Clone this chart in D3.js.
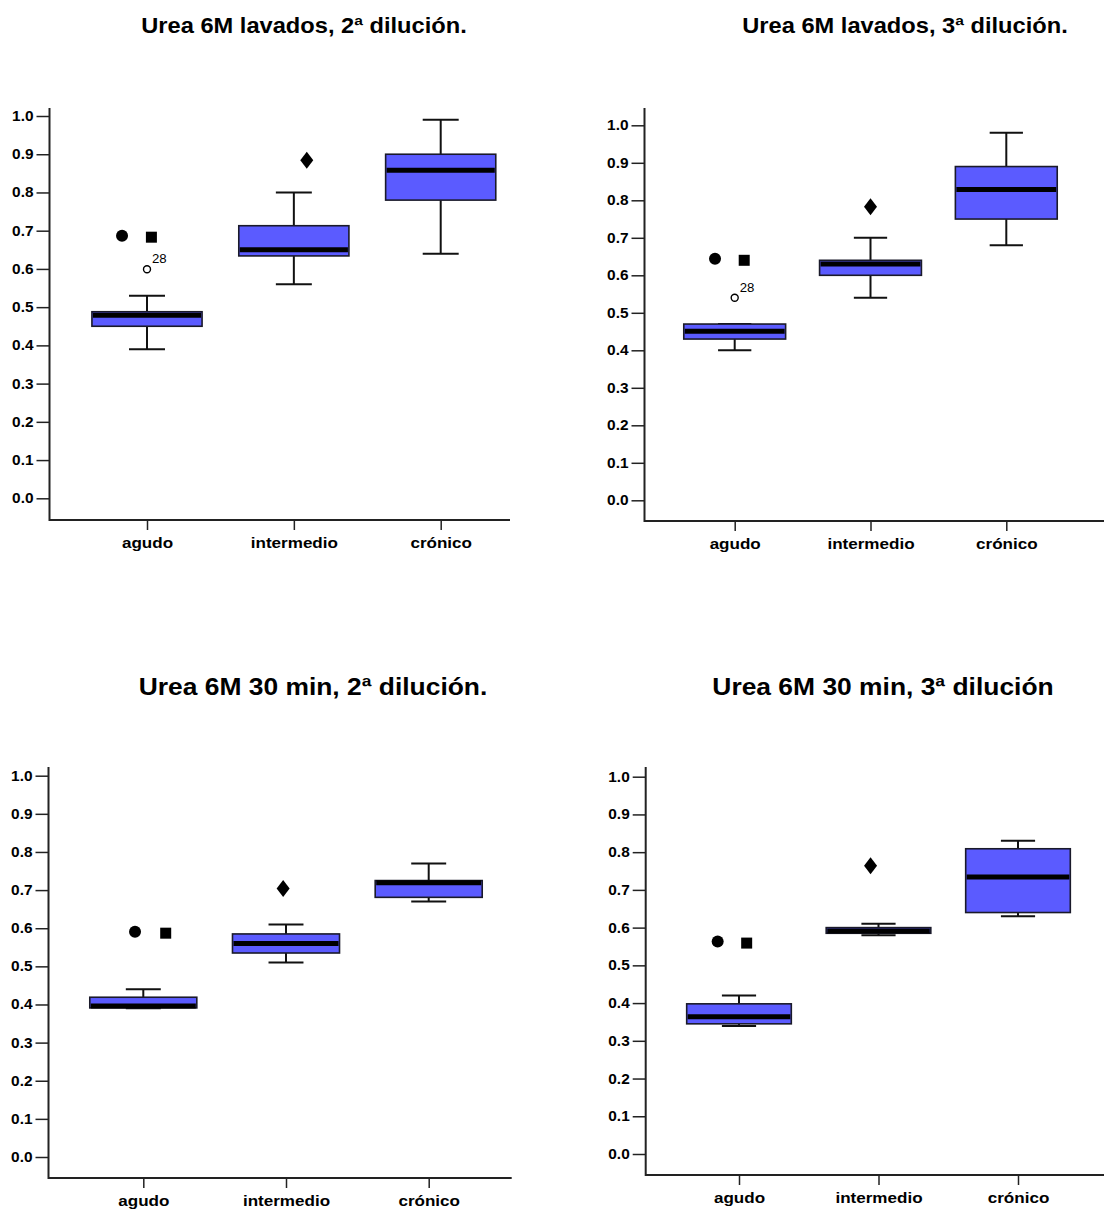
<!DOCTYPE html>
<html>
<head>
<meta charset="utf-8">
<script src="https://cdn.jsdelivr.net/npm/d3@7/dist/d3.min.js"></script>
<style>
  html, body { margin: 0; padding: 0; background: #ffffff; }
  svg { display: block; }
  text { font-family: "Liberation Sans", Arial, Helvetica, sans-serif; font-weight: bold; fill: #000; }
</style>
</head>
<body>
<svg id="chart" width="1104" height="1210"></svg>
<script>
// ---------------- DATA ----------------
const categories = ["agudo", "intermedio", "crónico"];
const titles = [
  "Urea 6M lavados, 2ª dilución.",
  "Urea 6M lavados, 3ª dilución.",
  "Urea 6M 30 min, 2ª dilución.",
  "Urea 6M 30 min, 3ª dilución"
];
const yTickValues = [0.0, 0.1, 0.2, 0.3, 0.4, 0.5, 0.6, 0.7, 0.8, 0.9, 1.0];
const yTickLabels = ["0.0", "0.1", "0.2", "0.3", "0.4", "0.5", "0.6", "0.7", "0.8", "0.9", "1.0"];

// box statistics per category: [min, q1, median, q3, max]
const boxesLavados2 = [
  [0.39, 0.45, 0.479, 0.488, 0.53],
  [0.56, 0.634, 0.65, 0.713, 0.80],
  [0.64, 0.78, 0.858, 0.90, 0.99]
];
const boxesLavados3 = [
  [0.40, 0.43, 0.451, 0.47, 0.47],
  [0.54, 0.60, 0.63, 0.64, 0.70],
  [0.68, 0.75, 0.829, 0.89, 0.98]
];
const boxes30min2 = [
  [0.39, 0.391, 0.396, 0.419, 0.44],
  [0.51, 0.535, 0.56, 0.585, 0.61],
  [0.67, 0.681, 0.719, 0.725, 0.77]
];
const boxes30min3 = [
  [0.339, 0.345, 0.364, 0.398, 0.42],
  [0.58, 0.585, 0.591, 0.60, 0.61],
  [0.63, 0.64, 0.734, 0.809, 0.83]
];

// outliers: category position (in category units, 0..2), value, marker kind, case label
const outliersLavados2 = [
  { pos: -0.17, value: 0.687, kind: "circle", label: "" },
  { pos: 0.03, value: 0.683, kind: "square", label: "" },
  { pos: 0.0, value: 0.599, kind: "open", label: "28" },
  { pos: 1.088, value: 0.884, kind: "diamond", label: "" }
];
const outliersLavados3 = [
  { pos: -0.145, value: 0.644, kind: "circle", label: "" },
  { pos: 0.07, value: 0.640, kind: "square", label: "" },
  { pos: 0.0, value: 0.540, kind: "open", label: "28" },
  { pos: 1.0, value: 0.783, kind: "diamond", label: "" }
];
const outliers30min2 = [
  { pos: -0.058, value: 0.591, kind: "circle", label: "" },
  { pos: 0.157, value: 0.587, kind: "square", label: "" },
  { pos: 0.98, value: 0.704, kind: "diamond", label: "" }
];
const outliers30min3 = [
  { pos: -0.153, value: 0.563, kind: "circle", label: "" },
  { pos: 0.055, value: 0.559, kind: "square", label: "" },
  { pos: 0.943, value: 0.764, kind: "diamond", label: "" }
];

// ---------------- LAYOUT ----------------
const panels = [
  { title: titles[0], boxes: boxesLavados2, outliers: outliersLavados2,
    axisX: 49.5, axisTop: 108, baseY: 520, right: 510, c0: 147, c2: 440.7, y0: 498.3, y1: 116,
    titleX: 304, titleY: 33, titleSize: 21.5 },
  { title: titles[1], boxes: boxesLavados3, outliers: outliersLavados3,
    axisX: 644.5, axisTop: 108, baseY: 521, right: 1104, c0: 734.7, c2: 1006.3, y0: 500.3, y1: 125.3,
    titleX: 905, titleY: 33, titleSize: 21.5 },
  { title: titles[2], boxes: boxes30min2, outliers: outliers30min2,
    axisX: 48.5, axisTop: 767, baseY: 1178, right: 511.7, c0: 143.3, c2: 428.7, y0: 1157, y1: 775.7,
    titleX: 313, titleY: 695, titleSize: 24 },
  { title: titles[3], boxes: boxes30min3, outliers: outliers30min3,
    axisX: 645.7, axisTop: 767, baseY: 1175, right: 1104, c0: 739, c2: 1018, y0: 1154, y1: 776.7,
    titleX: 883, titleY: 695, titleSize: 24 }
];

const STRETCH = 1.1;
const boxFill = "#5b5bff";
const svg = d3.select("#chart");

panels.forEach(p => {
  const g = svg.append("g");
  const x = d3.scaleLinear().domain([0, 2]).range([p.c0, p.c2]);
  const y = d3.scaleLinear().domain([0, 1]).range([p.y0, p.y1]);
  const spacing = x(1) - x(0);
  const boxW = spacing * 0.75;
  const capW = spacing * 0.245;

  // title
  g.append("text")
    .attr("class", "stretch")
    .attr("x", p.titleX).attr("y", p.titleY)
    .attr("text-anchor", "middle")
    .style("font-size", p.titleSize + "px")
    .text(p.title);

  // y axis
  const yAxis = d3.axisLeft(y)
    .tickValues(yTickValues)
    .tickFormat((d, i) => yTickLabels[i])
    .tickSize(13).tickPadding(3);
  const ya = g.append("g").attr("transform", `translate(${p.axisX},0)`).call(yAxis);
  ya.select(".domain").remove();
  ya.selectAll(".tick line").attr("stroke", "#222").attr("stroke-width", 1.5);
  ya.selectAll(".tick text").attr("class", "stretch")
    .style("font-size", "14px").style("font-family", null).attr("fill", "#000");

  // x axis
  const xAxis = d3.axisBottom(x)
    .tickValues([0, 1, 2])
    .tickFormat(i => categories[i])
    .tickSize(10).tickPadding(7);
  const xa = g.append("g").attr("transform", `translate(0,${p.baseY})`).call(xAxis);
  xa.select(".domain").remove();
  xa.selectAll(".tick line").attr("stroke", "#222").attr("stroke-width", 1.5);
  xa.selectAll(".tick text").attr("class", "stretch")
    .style("font-size", "15.5px").style("font-family", null).attr("fill", "#000");

  // axis lines
  g.append("path")
    .attr("d", `M${p.axisX},${p.axisTop}V${p.baseY}H${p.right}`)
    .attr("fill", "none").attr("stroke", "#222").attr("stroke-width", 2);

  // boxes
  p.boxes.forEach((b, i) => {
    const [mn, q1, md, q3, mx] = b;
    const cx = x(i);
    const bg = g.append("g");
    bg.append("line").attr("x1", cx).attr("x2", cx).attr("y1", y(q3)).attr("y2", y(mx))
      .attr("stroke", "#111").attr("stroke-width", 2);
    bg.append("line").attr("x1", cx).attr("x2", cx).attr("y1", y(q1)).attr("y2", y(mn))
      .attr("stroke", "#111").attr("stroke-width", 2);
    [mn, mx].forEach(v => {
      bg.append("line").attr("x1", cx - capW / 2).attr("x2", cx + capW / 2)
        .attr("y1", y(v)).attr("y2", y(v))
        .attr("stroke", "#111").attr("stroke-width", 2);
    });
    bg.append("rect")
      .attr("x", cx - boxW / 2).attr("width", boxW)
      .attr("y", y(q3)).attr("height", Math.max(1, y(q1) - y(q3)))
      .attr("fill", boxFill).attr("stroke", "#1a1a2a").attr("stroke-width", 1.6);
    bg.append("line")
      .attr("x1", cx - boxW / 2 + 1).attr("x2", cx + boxW / 2 - 1)
      .attr("y1", y(md)).attr("y2", y(md))
      .attr("stroke", "#000").attr("stroke-width", 5);
  });

  // outliers
  p.outliers.forEach(o => {
    const ox = x(o.pos), oy = y(o.value);
    if (o.kind === "circle") {
      g.append("circle").attr("cx", ox).attr("cy", oy).attr("r", 6).attr("fill", "#000");
    } else if (o.kind === "square") {
      g.append("rect").attr("x", ox - 5.5).attr("y", oy - 5.5).attr("width", 11).attr("height", 11).attr("fill", "#000");
    } else if (o.kind === "diamond") {
      g.append("path").attr("d", `M${ox},${oy - 8.5}L${ox + 6.5},${oy}L${ox},${oy + 8.5}L${ox - 6.5},${oy}Z`).attr("fill", "#000");
    } else if (o.kind === "open") {
      g.append("circle").attr("cx", ox).attr("cy", oy).attr("r", 3.5)
        .attr("fill", "#fff").attr("stroke", "#000").attr("stroke-width", 1.4);
      if (o.label) {
        g.append("text").attr("class", "stretch")
          .attr("x", ox + 5).attr("y", oy - 6)
          .style("font-size", "12px").style("font-weight", "normal")
          .text(o.label);
      }
    }
  });
});

// slight horizontal stretch of text, as in the reference picture
svg.selectAll("text.stretch").each(function () {
  const len = this.getComputedTextLength();
  d3.select(this).attr("textLength", len * STRETCH).attr("lengthAdjust", "spacingAndGlyphs");
});
</script>
</body>
</html>
